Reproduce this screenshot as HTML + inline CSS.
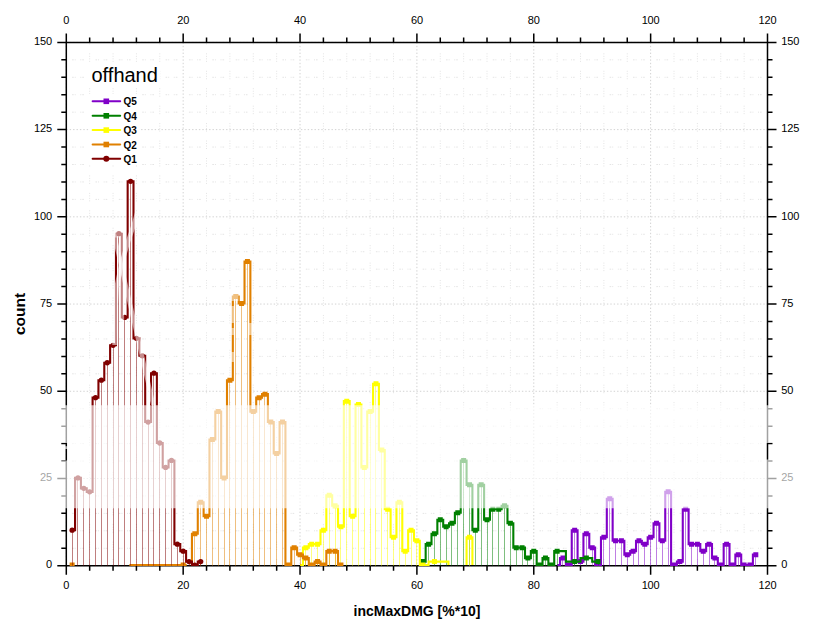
<!DOCTYPE html>
<html lang="en">
<head>
<meta charset="utf-8">
<title>offhand - incMaxDMG histogram</title>
<style>
html,body{margin:0;padding:0;background:#fff;}
body{width:825px;height:638px;position:relative;overflow:hidden;font-family:"Liberation Sans",sans-serif;}
</style>
</head>
<body>
<svg width="825" height="638" viewBox="0 0 825 638" style="position:absolute;left:0;top:0;display:block">
<rect width="825" height="638" fill="#fff"/>
<path d="M66.3 548.26H767.5M66.3 530.81H767.5M66.3 513.37H767.5M66.3 495.93H767.5M66.3 461.04H767.5M66.3 443.6H767.5M66.3 426.15H767.5M66.3 408.71H767.5M66.3 373.82H767.5M66.3 356.38H767.5M66.3 338.94H767.5M66.3 321.49H767.5M66.3 286.61H767.5M66.3 269.16H767.5M66.3 251.72H767.5M66.3 234.28H767.5M66.3 199.39H767.5M66.3 181.95H767.5M66.3 164.5H767.5M66.3 147.06H767.5M66.3 112.17H767.5M66.3 94.73H767.5M66.3 77.29H767.5M66.3 59.84H767.5" stroke="#e4e4e4" stroke-width="1" stroke-dasharray="0 5.8 1.6 1 1 4.6 1 1 1.6 5.77" fill="none"/>
<path d="M89.67 42.4V565.7M113.05 42.4V565.7M136.42 42.4V565.7M159.79 42.4V565.7M206.54 42.4V565.7M229.91 42.4V565.7M253.29 42.4V565.7M276.66 42.4V565.7M323.41 42.4V565.7M346.78 42.4V565.7M370.15 42.4V565.7M393.53 42.4V565.7M440.27 42.4V565.7M463.65 42.4V565.7M487.02 42.4V565.7M510.39 42.4V565.7M557.14 42.4V565.7M580.51 42.4V565.7M603.89 42.4V565.7M627.26 42.4V565.7M674.01 42.4V565.7M697.38 42.4V565.7M720.75 42.4V565.7M744.13 42.4V565.7" stroke="#e3e3e3" stroke-width="1" stroke-dasharray="1 1.5 1 1.5 1 1.5 1 8.94" stroke-dashoffset="6.5" fill="none"/>
<path d="M66.3 42.4V565.7M183.17 42.4V565.7M300.03 42.4V565.7M416.9 42.4V565.7M533.77 42.4V565.7M650.63 42.4V565.7M767.5 42.4V565.7M66.3 565.7H767.5M66.3 478.48H767.5M66.3 391.27H767.5M66.3 304.05H767.5M66.3 216.83H767.5M66.3 129.62H767.5M66.3 42.4H767.5" stroke="#d2d2d2" stroke-width="1" stroke-dasharray="1.4 2" fill="none"/>
<path d="M66.3 42.4H767.5V565.7H66.3ZM66.3 42.4v-9M66.3 565.7v9M89.67 42.4v-5M89.67 565.7v5M113.05 42.4v-5M113.05 565.7v5M136.42 42.4v-5M136.42 565.7v5M159.79 42.4v-5M159.79 565.7v5M183.17 42.4v-9M183.17 565.7v9M206.54 42.4v-5M206.54 565.7v5M229.91 42.4v-5M229.91 565.7v5M253.29 42.4v-5M253.29 565.7v5M276.66 42.4v-5M276.66 565.7v5M300.03 42.4v-9M300.03 565.7v9M323.41 42.4v-5M323.41 565.7v5M346.78 42.4v-5M346.78 565.7v5M370.15 42.4v-5M370.15 565.7v5M393.53 42.4v-5M393.53 565.7v5M416.9 42.4v-9M416.9 565.7v9M440.27 42.4v-5M440.27 565.7v5M463.65 42.4v-5M463.65 565.7v5M487.02 42.4v-5M487.02 565.7v5M510.39 42.4v-5M510.39 565.7v5M533.77 42.4v-9M533.77 565.7v9M557.14 42.4v-5M557.14 565.7v5M580.51 42.4v-5M580.51 565.7v5M603.89 42.4v-5M603.89 565.7v5M627.26 42.4v-5M627.26 565.7v5M650.63 42.4v-9M650.63 565.7v9M674.01 42.4v-5M674.01 565.7v5M697.38 42.4v-5M697.38 565.7v5M720.75 42.4v-5M720.75 565.7v5M744.13 42.4v-5M744.13 565.7v5M767.5 42.4v-9M767.5 565.7v9M66.3 565.7h-9M767.5 565.7h9M66.3 548.26h-5M767.5 548.26h5M66.3 530.81h-5M767.5 530.81h5M66.3 513.37h-5M767.5 513.37h5M66.3 495.93h-5M767.5 495.93h5M66.3 478.48h-9M767.5 478.48h9M66.3 461.04h-5M767.5 461.04h5M66.3 443.6h-5M767.5 443.6h5M66.3 426.15h-5M767.5 426.15h5M66.3 408.71h-5M767.5 408.71h5M66.3 391.27h-9M767.5 391.27h9M66.3 373.82h-5M767.5 373.82h5M66.3 356.38h-5M767.5 356.38h5M66.3 338.94h-5M767.5 338.94h5M66.3 321.49h-5M767.5 321.49h5M66.3 304.05h-9M767.5 304.05h9M66.3 286.61h-5M767.5 286.61h5M66.3 269.16h-5M767.5 269.16h5M66.3 251.72h-5M767.5 251.72h5M66.3 234.28h-5M767.5 234.28h5M66.3 216.83h-9M767.5 216.83h9M66.3 199.39h-5M767.5 199.39h5M66.3 181.95h-5M767.5 181.95h5M66.3 164.5h-5M767.5 164.5h5M66.3 147.06h-5M767.5 147.06h5M66.3 129.62h-9M767.5 129.62h9M66.3 112.17h-5M767.5 112.17h5M66.3 94.73h-5M767.5 94.73h5M66.3 77.29h-5M767.5 77.29h5M66.3 59.84h-5M767.5 59.84h5M66.3 42.4h-9M767.5 42.4h9" stroke="#000" stroke-width="1.5" fill="none" stroke-linecap="butt"/>
<defs><clipPath id="pc"><rect x="66.3" y="42.4" width="701.2" height="523.6"/></clipPath></defs><g clip-path="url(#pc)">
<g stroke="#8000C8" fill="none"><path d="M562.5 558.12V565.7M574.5 530.21V565.7M580.5 561.61V565.7M586.5 533.7V565.7M592.5 547.66V565.7M603.5 537.19V565.7M609.5 498.82V565.7M615.5 540.68V565.7M621.5 540.68V565.7M627.5 554.63V565.7M633.5 551.15V565.7M638.5 540.68V565.7M644.5 544.17V565.7M650.5 537.19V565.7M656.5 523.24V565.7M662.5 540.68V565.7M668.5 491.84V565.7M679.5 561.61V565.7M685.5 509.28V565.7M691.5 544.17V565.7M697.5 544.17V565.7M703.5 551.15V565.7M709.5 544.17V565.7M714.5 558.12V565.7M726.5 544.17V565.7M738.5 554.63V565.7M755.5 554.63V565.7" stroke-width="1" opacity="0.5"/><path d="M557.14 565.1H560.06V558.12H565.91V565.1H571.75V530.21H577.59V561.61H583.43V533.7H589.28V547.66H595.12V565.1H600.97V537.19H606.81V498.82H612.65V540.68H618.5H624.34V554.63H630.18V551.15H636.02V540.68H641.87V544.17H647.71V537.19H653.55V523.24H659.4V540.68H665.24V491.84H671.09V565.1H676.93V561.61H682.77V509.28H688.62V544.17H694.46H700.3V551.15H706.14V544.17H711.99V558.12H717.83V565.1H723.67V544.17H729.52V565.1H735.36V554.63H741.21V565.1H747.05H752.89V554.63H755.81" stroke-width="2.1" stroke-linejoin="miter"/></g><g fill="#8000C8" stroke="none"><path d="M560.48 555.62h5v5h-5zM566.33 562.6h5v5h-5zM572.17 527.71h5v5h-5zM578.01 559.11h5v5h-5zM583.86 531.2h5v5h-5zM589.7 545.16h5v5h-5zM595.54 562.6h5v5h-5zM601.39 534.69h5v5h-5zM607.23 496.32h5v5h-5zM613.07 538.18h5v5h-5zM618.92 538.18h5v5h-5zM624.76 552.13h5v5h-5zM630.6 548.65h5v5h-5zM636.45 538.18h5v5h-5zM642.29 541.67h5v5h-5zM648.13 534.69h5v5h-5zM653.98 520.74h5v5h-5zM659.82 538.18h5v5h-5zM665.66 489.34h5v5h-5zM671.51 562.6h5v5h-5zM677.35 559.11h5v5h-5zM683.19 506.78h5v5h-5zM689.04 541.67h5v5h-5zM694.88 541.67h5v5h-5zM700.72 548.65h5v5h-5zM706.57 541.67h5v5h-5zM712.41 555.62h5v5h-5zM718.25 562.6h5v5h-5zM724.1 541.67h5v5h-5zM729.94 562.6h5v5h-5zM735.78 552.13h5v5h-5zM741.63 562.6h5v5h-5zM747.47 562.6h5v5h-5zM753.31 552.13h5v5h-5z"/></g>
<g stroke="#008000" fill="none"><path d="M422.5 561.61V565.7M428.5 544.17V565.7M434.5 533.7V565.7M440.5 519.75V565.7M446.5 526.72V565.7M451.5 523.24V565.7M457.5 512.77V565.7M463.5 460.44V565.7M469.5 484.86V565.7M475.5 530.21V565.7M481.5 484.86V565.7M487.5 519.75V565.7M492.5 509.28V565.7M498.5 509.28V565.7M504.5 505.79V565.7M510.5 523.24V565.7M516.5 547.66V565.7M522.5 547.66V565.7M527.5 558.12V565.7M533.5 551.15V565.7M545.5 558.12V565.7M557.5 551.15V565.7M574.5 561.61V565.7M586.5 558.12V565.7M598.5 561.61V565.7" stroke-width="1" opacity="0.5"/><path d="M422.74 561.61H425.67V544.17H431.51V533.7H437.35V519.75H443.2V526.72H449.04V523.24H454.88V512.77H460.73V460.44H466.57V484.86H472.41V530.21H478.26V484.86H484.1V519.75H489.94V509.28H495.79H501.63V505.79H507.47V523.24H513.32V547.66H519.16H525V558.12H530.85V551.15H536.69V565.1H542.53V558.12H548.38V565.1H554.22V551.15H565.91V561.61H580.51V558.12H592.2V561.61H598.04" stroke-width="2.1" stroke-linejoin="miter"/></g><g fill="#008000" stroke="none"><path d="M420.24 559.11h5v5h-5zM426.09 541.67h5v5h-5zM431.93 531.2h5v5h-5zM437.77 517.25h5v5h-5zM443.62 524.22h5v5h-5zM449.46 520.74h5v5h-5zM455.3 510.27h5v5h-5zM461.15 457.94h5v5h-5zM466.99 482.36h5v5h-5zM472.83 527.71h5v5h-5zM478.68 482.36h5v5h-5zM484.52 517.25h5v5h-5zM490.36 506.78h5v5h-5zM496.21 506.78h5v5h-5zM502.05 503.29h5v5h-5zM507.89 520.74h5v5h-5zM513.74 545.16h5v5h-5zM519.58 545.16h5v5h-5zM525.42 555.62h5v5h-5zM531.27 548.65h5v5h-5zM537.11 562.6h5v5h-5zM542.95 555.62h5v5h-5zM548.8 562.6h5v5h-5zM554.64 548.65h5v5h-5zM572.17 559.11h5v5h-5zM583.86 555.62h5v5h-5zM595.54 559.11h5v5h-5z"/></g>
<g stroke="#FFFF00" fill="none"><path d="M305.5 547.66V565.7M311.5 544.17V565.7M317.5 544.17V565.7M323.5 530.21V565.7M329.5 495.33V565.7M335.5 505.79V565.7M340.5 526.72V565.7M346.5 401.13V565.7M352.5 516.26V565.7M358.5 404.62V565.7M364.5 467.42V565.7M370.5 411.6V565.7M375.5 383.69V565.7M381.5 449.97V565.7M387.5 509.28V565.7M393.5 537.19V565.7M399.5 502.3V565.7M405.5 551.15V565.7M411.5 530.21V565.7M416.5 540.68V565.7M469.5 537.19V565.7" stroke-width="1" opacity="0.5"/><path d="M300.03 565.1H302.96V547.66H308.8V544.17H314.64H320.49V530.21H326.33V495.33H332.17V505.79H338.02V526.72H343.86V401.13H349.7V516.26H355.55V404.62H361.39V467.42H367.23V411.6H373.07V383.69H378.92V449.97H384.76V509.28H390.61V537.19H396.45V502.3H402.29V551.15H408.14V530.21H413.98V540.68H419.82V565.1H422.74M422.74 565.1H428.59V561.61H448.45V565.1M466.57 565.1V537.19H472.41V565.1" stroke-width="2.1" stroke-linejoin="miter"/></g><g fill="#FFFF00" stroke="none"><path d="M303.38 545.16h5v5h-5zM309.22 541.67h5v5h-5zM315.06 541.67h5v5h-5zM320.91 527.71h5v5h-5zM326.75 492.83h5v5h-5zM332.59 503.29h5v5h-5zM338.44 524.22h5v5h-5zM344.28 398.63h5v5h-5zM350.12 513.76h5v5h-5zM355.97 402.12h5v5h-5zM361.81 464.92h5v5h-5zM367.65 409.1h5v5h-5zM373.5 381.19h5v5h-5zM379.34 447.47h5v5h-5zM385.18 506.78h5v5h-5zM391.03 534.69h5v5h-5zM396.87 499.8h5v5h-5zM402.71 548.65h5v5h-5zM408.56 527.71h5v5h-5zM414.4 538.18h5v5h-5zM420.24 562.6h5v5h-5zM431.93 559.11h5v5h-5zM466.99 534.69h5v5h-5z"/></g>
<g stroke="#E08000" fill="none"><path d="M194.5 533.7V565.7M200.5 502.3V565.7M206.5 516.26V565.7M212.5 439.51V565.7M218.5 411.6V565.7M224.5 477.88V565.7M229.5 380.2V565.7M235.5 296.47V565.7M241.5 303.45V565.7M247.5 261.59V565.7M253.5 411.6V565.7M259.5 397.64V565.7M264.5 394.16V565.7M270.5 422.06V565.7M276.5 453.46V565.7M282.5 422.06V565.7M294.5 547.66V565.7M300.5 554.63V565.7M305.5 558.12V565.7M317.5 561.61V565.7M329.5 551.15V565.7M335.5 551.15V565.7" stroke-width="1" opacity="0.5"/><path d="M191.93 565.1H191.93V533.7H197.78V502.3H203.62V516.26H209.46V439.51H215.31V411.6H221.15V477.88H226.99V380.2H232.83V296.47H238.68V303.45H244.52V261.59H250.37V411.6H256.21V397.64H262.05V394.16H267.89V422.06H273.74V453.46H279.58V422.06H285.43V565.1H291.27V547.66H297.11V554.63H302.96V558.12H308.8V565.1H314.64V561.61H320.49V565.1H326.33V551.15H332.17H338.02V565.1H340.94M129.41 565.1H186.67" stroke-width="2.1" stroke-linejoin="miter"/></g><g fill="#E08000" stroke="none"><path d="M192.35 531.2h5v5h-5zM198.2 499.8h5v5h-5zM204.04 513.76h5v5h-5zM209.88 437.01h5v5h-5zM215.73 409.1h5v5h-5zM221.57 475.38h5v5h-5zM227.41 377.7h5v5h-5zM233.26 293.97h5v5h-5zM239.1 300.95h5v5h-5zM244.94 259.09h5v5h-5zM250.79 409.1h5v5h-5zM256.63 395.14h5v5h-5zM262.47 391.66h5v5h-5zM268.32 419.56h5v5h-5zM274.16 450.96h5v5h-5zM280 419.56h5v5h-5zM285.85 562.6h5v5h-5zM291.69 545.16h5v5h-5zM297.53 552.13h5v5h-5zM303.38 555.62h5v5h-5zM309.22 562.6h5v5h-5zM315.06 559.11h5v5h-5zM320.91 562.6h5v5h-5zM326.75 548.65h5v5h-5zM332.59 548.65h5v5h-5zM338.44 562.6h5v5h-5zM69.64 562.6h5v5h-5zM180.67 562.6h5v5h-5z"/></g>
<g stroke="#800000" fill="none"><path d="M72.5 530.21V565.7M77.5 477.88V565.7M83.5 488.35V565.7M89.5 491.84V565.7M95.5 397.64V565.7M101.5 380.2V565.7M107.5 362.76V565.7M113.5 345.31V565.7M118.5 233.68V565.7M124.5 317.4V565.7M130.5 181.35V565.7M136.5 338.34V565.7M142.5 355.78V565.7M148.5 422.06V565.7M153.5 373.22V565.7M159.5 443V565.7M165.5 467.42V565.7M171.5 460.44V565.7M177.5 544.17V565.7M183.5 551.15V565.7M189.5 561.61V565.7M200.5 561.61V565.7" stroke-width="1" opacity="0.5"/><path d="M72.14 530.21H75.06V477.88H80.91V488.35H86.75V491.84H92.59V397.64H98.44V380.2H104.28V362.76H110.12V345.31H115.97V233.68H121.81V317.4H127.66V181.35H133.5V338.34H139.34V355.78H145.19V422.06H151.03V373.22H156.87V443H162.72V467.42H168.56V460.44H174.4V544.17H180.25V551.15H186.09V561.61H191.93V565.1H197.78V561.61H200.7" stroke-width="2.1" stroke-linejoin="miter"/></g><g fill="#800000" stroke="none"><circle cx="72.14" cy="530.21" r="2.65"/><circle cx="77.99" cy="477.88" r="2.65"/><circle cx="83.83" cy="488.35" r="2.65"/><circle cx="89.67" cy="491.84" r="2.65"/><circle cx="95.52" cy="397.64" r="2.65"/><circle cx="101.36" cy="380.2" r="2.65"/><circle cx="107.2" cy="362.76" r="2.65"/><circle cx="113.05" cy="345.31" r="2.65"/><circle cx="118.89" cy="233.68" r="2.65"/><circle cx="124.73" cy="317.4" r="2.65"/><circle cx="130.58" cy="181.35" r="2.65"/><circle cx="136.42" cy="338.34" r="2.65"/><circle cx="142.26" cy="355.78" r="2.65"/><circle cx="148.11" cy="422.06" r="2.65"/><circle cx="153.95" cy="373.22" r="2.65"/><circle cx="159.79" cy="443" r="2.65"/><circle cx="165.64" cy="467.42" r="2.65"/><circle cx="171.48" cy="460.44" r="2.65"/><circle cx="177.32" cy="544.17" r="2.65"/><circle cx="183.17" cy="551.15" r="2.65"/><circle cx="189.01" cy="561.61" r="2.65"/><circle cx="194.85" cy="565.1" r="2.65"/><circle cx="200.7" cy="561.61" r="2.65"/></g>
</g>
<g font-family="'Liberation Sans', sans-serif" font-size="11" letter-spacing="-0.12" fill="#000">
<text x="66.3" y="23.5" text-anchor="middle">0</text>
<text x="66.3" y="589.3" text-anchor="middle">0</text>
<text x="183.17" y="23.5" text-anchor="middle">20</text>
<text x="183.17" y="589.3" text-anchor="middle">20</text>
<text x="300.03" y="23.5" text-anchor="middle">40</text>
<text x="300.03" y="589.3" text-anchor="middle">40</text>
<text x="416.9" y="23.5" text-anchor="middle">60</text>
<text x="416.9" y="589.3" text-anchor="middle">60</text>
<text x="533.77" y="23.5" text-anchor="middle">80</text>
<text x="533.77" y="589.3" text-anchor="middle">80</text>
<text x="650.63" y="23.5" text-anchor="middle">100</text>
<text x="650.63" y="589.3" text-anchor="middle">100</text>
<text x="767.5" y="23.5" text-anchor="middle">120</text>
<text x="767.5" y="589.3" text-anchor="middle">120</text>
<text x="52" y="568.4" text-anchor="end">0</text>
<text x="781.3" y="568.4" text-anchor="start">0</text>
<text x="52" y="481.18" text-anchor="end">25</text>
<text x="781.3" y="481.18" text-anchor="start">25</text>
<text x="52" y="393.97" text-anchor="end">50</text>
<text x="781.3" y="393.97" text-anchor="start">50</text>
<text x="52" y="306.75" text-anchor="end">75</text>
<text x="781.3" y="306.75" text-anchor="start">75</text>
<text x="52" y="219.53" text-anchor="end">100</text>
<text x="781.3" y="219.53" text-anchor="start">100</text>
<text x="52" y="132.32" text-anchor="end">125</text>
<text x="781.3" y="132.32" text-anchor="start">125</text>
<text x="52" y="45.1" text-anchor="end">150</text>
<text x="781.3" y="45.1" text-anchor="start">150</text>
</g>
<g font-family="'Liberation Sans', sans-serif" font-weight="bold" fill="#000">
<text x="417" y="615.5" font-size="14" text-anchor="middle">incMaxDMG [%*10]</text>
<text transform="translate(25 314) rotate(-90)" font-size="15.5" text-anchor="middle">count</text>
</g>
<rect x="89" y="64" width="71" height="24" fill="#fff"/><rect x="89" y="94" width="50" height="71" fill="#fff"/>
<text x="91.5" y="82.3" font-family="'Liberation Sans', sans-serif" font-size="20" fill="#000">offhand</text>
<path d="M92.6 101.3H120.2" stroke="#8000C8" stroke-width="2" stroke-linecap="round" fill="none"/>
<rect x="103.5" y="98.5" width="5.6" height="5.6" fill="#8000C8"/>
<text x="123.5" y="105.3" font-family="'Liberation Sans', sans-serif" font-weight="bold" font-size="10" fill="#000">Q5</text>
<path d="M92.6 115.8H120.2" stroke="#008000" stroke-width="2" stroke-linecap="round" fill="none"/>
<rect x="103.5" y="113" width="5.6" height="5.6" fill="#008000"/>
<text x="123.5" y="119.8" font-family="'Liberation Sans', sans-serif" font-weight="bold" font-size="10" fill="#000">Q4</text>
<path d="M92.6 130.1H120.2" stroke="#FFFF00" stroke-width="2" stroke-linecap="round" fill="none"/>
<rect x="103.5" y="127.3" width="5.6" height="5.6" fill="#FFFF00"/>
<text x="123.5" y="134.1" font-family="'Liberation Sans', sans-serif" font-weight="bold" font-size="10" fill="#000">Q3</text>
<path d="M92.6 144.5H120.2" stroke="#E08000" stroke-width="2" stroke-linecap="round" fill="none"/>
<rect x="103.5" y="141.7" width="5.6" height="5.6" fill="#E08000"/>
<text x="123.5" y="148.5" font-family="'Liberation Sans', sans-serif" font-weight="bold" font-size="10" fill="#000">Q2</text>
<path d="M92.6 158.8H120.2" stroke="#800000" stroke-width="2" stroke-linecap="round" fill="none"/>
<circle cx="106.3" cy="158.8" r="3" fill="#800000"/>
<text x="123.5" y="162.8" font-family="'Liberation Sans', sans-serif" font-weight="bold" font-size="10" fill="#000">Q1</text>
<path fill-rule="evenodd" d="M0 405.2H825V508.2H0ZM765 443H773V445H765ZM765 445H770V459.5H765ZM60 443H70V446.3H60ZM60 449H70V460.5H60Z" fill="#fff" opacity="0.63"/>
<path d="M137.5 212L133.8 224.8L128.6 239.9L121.6 263.3L116.5 287.8L114.8 320L114.6 345" fill="none" stroke="#fff" stroke-width="4.6" stroke-linejoin="round" opacity="0.55"/>
<path d="M111.2 232H115.7L155.5 405H151Z" fill="#fff" opacity="0.55"/>
<path d="M114 229.5h6v8h-6zM119.9 229.5h4.2v92h-4.2zM229.5 293h9v8h-9zM229.8 306h4.6v17h-4.6zM229.8 328h4.6v7h-4.6zM229.8 352h4.6v10h-4.6zM248.2 323h4.6v12h-4.6z" fill="#fff" opacity="0.5"/>
</svg>
</body>
</html>
